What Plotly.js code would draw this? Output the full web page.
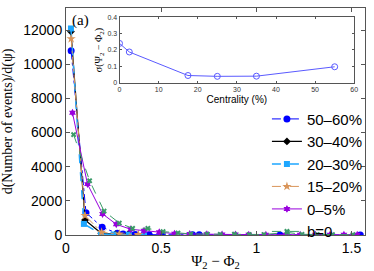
<!DOCTYPE html>
<html>
<head>
<meta charset="utf-8">
<script src="https://cdn.plot.ly/plotly-3.0.1.min.js"></script>
<style>html,body{margin:0;padding:0;background:#fff;}#chart{width:374px;height:271px;}</style>
</head>
<body>
<div id="chart"></div>
<script>
// Series names
const seriesNames = ["50\u201360%", "30\u201340%", "20\u201330%", "15\u201320%", "0\u20135%", "b=0"];

// 50-60%
const x5060 = [0.027, 0.105, 0.19, 0.27, 0.30, 0.335, 0.364, 0.437, 0.505, 0.665, 0.70, 1.124, 1.546];
const y5060 = [10800, 1310, 450, 100, 60, 40, 30, 20, 15, 10, 10, 5, 5];
// 30-40%
const x3040 = [0.026, 0.1, 0.185, 0.26, 0.325];
const y3040 = [11920, 880, 100, 40, 20];
// 20-30%
const x2030 = [0.026, 0.094, 0.184, 0.25, 0.33, 0.41];
const y2030 = [12100, 650, 60, 30, 20, 10];
// 15-20%
const x1520 = [0.027, 0.1, 0.187, 0.28, 0.38];
const y1520 = [11500, 1140, 160, 60, 30];
// 0-5%
const x005 = [0.034, 0.113, 0.192, 0.264, 0.34, 0.41, 0.49, 0.57, 0.65, 0.74, 0.82, 0.89, 0.96, 1.05, 1.155, 1.23, 1.31, 1.387, 1.46, 1.53];
const y005 = [7160, 2980, 1235, 630, 335, 250, 160, 80, 60, 40, 30, 25, 20, 20, 15, 15, 10, 10, 10, 10];
// b=0
const xb0 = [0.04, 0.124, 0.2, 0.28, 0.35, 0.43, 0.51, 0.588, 0.656, 0.742, 0.81, 0.885, 0.962, 1.04, 1.163, 1.24, 1.32, 1.40, 1.507];
const yb0 = [5880, 3180, 1400, 700, 390, 390, 200, 120, 60, 50, 40, 50, 30, 30, 150, 40, 30, 20, 20];

// Inset: sigma vs centrality
const centrality = [0, 2.5, 17.5, 25, 35, 55];
const sigma = [0.24, 0.188, 0.045, 0.04, 0.041, 0.098];

const mainTickVals = [0, 0.5, 1, 1.5];
const mainTickText = ["0", "0.5", "1", "1.5"];

const traces = [
  {x: x5060, y: y5060, name: seriesNames[0], mode: "lines+markers",
   line: {color: "#0000ff", width: 1, dash: "dashdot"}, marker: {symbol: "circle", size: 7, color: "#0000ff"}},
  {x: x3040, y: y3040, name: seriesNames[1], mode: "lines+markers",
   line: {color: "#000000", width: 1.2}, marker: {symbol: "diamond", size: 6, color: "#000000"}},
  {x: x2030, y: y2030, name: seriesNames[2], mode: "lines+markers",
   line: {color: "#1ea7ff", width: 1.5, dash: "dash"}, marker: {symbol: "square", size: 6, color: "#1ea7ff"}},
  {x: x1520, y: y1520, name: seriesNames[3], mode: "lines+markers",
   line: {color: "#d9955a", width: 1, dash: "dashdot"}, marker: {symbol: "star", size: 7, color: "#d9955a"}},
  {x: x005, y: y005, name: seriesNames[4], mode: "lines+markers",
   line: {color: "#9900dd", width: 1}, marker: {symbol: "hexagram", size: 6, color: "#9900dd"}},
  {x: xb0, y: yb0, name: seriesNames[5], mode: "lines+markers",
   line: {color: "#3a9a68", width: 1, dash: "dash"}, marker: {symbol: "x", size: 5, color: "#3a9a68"}},
  {x: centrality, y: sigma, xaxis: "x2", yaxis: "y2", mode: "lines+markers", showlegend: false,
   line: {color: "#5a5aff", width: 1}, marker: {symbol: "circle-open", size: 6, color: "#5a5aff", line: {width: 1}}}
];

const axisLine = "#555555";
const layout = {
  width: 374, height: 271,
  margin: {l: 66, r: 6, t: 8, b: 36},
  paper_bgcolor: "#ffffff", plot_bgcolor: "rgba(0,0,0,0)",
  font: {family: "Liberation Sans, Arial, sans-serif", size: 14, color: "#000"},
  showlegend: true,
  legend: {x: 0.672, xanchor: "left", y: 0.583, yanchor: "top", bgcolor: "rgba(0,0,0,0)",
           font: {family: "Liberation Sans, Arial, sans-serif", size: 15, color: "#000"}},
  xaxis: {range: [0, Math.PI / 2], tickvals: mainTickVals, ticktext: mainTickText,
          showgrid: false, zeroline: false, showline: true, linecolor: axisLine, linewidth: 1,
          mirror: "ticks", ticks: "inside", ticklen: 4, tickcolor: axisLine,
          tickfont: {size: 14}, domain: [0, 1],
          title: {text: "\u03A8<sub>2</sub> \u2212 \u03A6<sub>2</sub>", font: {family: "Liberation Serif, serif", size: 15}, standoff: 1}},
  yaxis: {range: [0, 13300], tickvals: [0, 2000, 4000, 6000, 8000, 10000, 12000],
          showgrid: false, zeroline: false, showline: true, linecolor: axisLine, linewidth: 1,
          mirror: "ticks", ticks: "inside", ticklen: 4, tickcolor: axisLine,
          tickfont: {size: 14}, tickformat: "d",
          title: {text: "d(Number of events)/d(\u03C8)", font: {family: "Liberation Serif, serif", size: 14}, standoff: 8}},
  xaxis2: {domain: [0.179, 0.964], anchor: "y2", range: [0, 60], tickvals: [0, 10, 20, 30, 40, 50, 60],
           showgrid: false, zeroline: false, showline: true, linecolor: axisLine, linewidth: 1,
           mirror: "ticks", ticks: "inside", ticklen: 2, tickcolor: axisLine,
           tickfont: {size: 7, color: "#333"},
           title: {text: "Centrality (%)", font: {size: 10}, standoff: 3}},
  yaxis2: {domain: [0.67, 0.96], anchor: "x2", range: [0, 0.4], tickvals: [0, 0.1, 0.2, 0.3, 0.4],
           showgrid: false, zeroline: false, showline: true, linecolor: axisLine, linewidth: 1,
           mirror: "ticks", ticks: "inside", ticklen: 2, tickcolor: axisLine,
           tickfont: {size: 7, color: "#333"},
           title: {text: "\u03C3(\u03A8<sub>2</sub> \u2212 \u03A6<sub>2</sub>)", font: {family: "Liberation Serif, serif", size: 10}, standoff: 2}},
  annotations: [
    {text: "(a)", xref: "paper", yref: "paper", x: 0.012, y: 0.99, xanchor: "left", yanchor: "top",
     showarrow: false, font: {family: "Liberation Serif, serif", size: 15}}
  ]
};

Plotly.newPlot("chart", traces, layout, {staticPlot: true, displayModeBar: false});
</script>
</body>
</html>
